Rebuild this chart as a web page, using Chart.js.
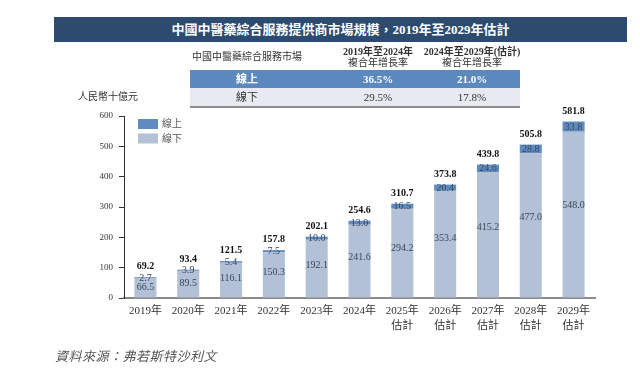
<!DOCTYPE html>
<html>
<head>
<meta charset="utf-8">
<script src="https://cdn.jsdelivr.net/npm/chart.js@4.4.1/dist/chart.umd.min.js"></script>
<style>
  html, body { margin:0; padding:0; background:#fff; }
  #page { position:relative; width:640px; height:376px; overflow:hidden; background:#fff;
          font-family:'Liberation Serif','Noto Sans CJK TC',serif; }
  #c { position:absolute; left:0; top:0; }
  .abs { position:absolute; white-space:nowrap; }
  #titlebar { left:54px; top:17px; width:573px; height:25px; background:#2d4b6f; color:#fff;
              font-weight:bold; font-size:13px; line-height:25px; text-align:center; }
  .cell { position:absolute; text-align:center; font-size:10px; color:#333; }
  #rowOn { left:190px; top:70px; width:330px; height:18px; background:#5b89be; }
  #rowOff { left:190px; top:88px; width:330px; height:18px; background:#e7ebf1; border-bottom:2px solid #8c8c8c; }
  #unit { left:78px; top:88px; font-size:10px; color:#333; }
  #source { left:55px; top:346px; font-size:13px; color:#555; font-style:italic; letter-spacing:0.5px; }
</style>
</head>
<body>
<div id="page">
  <canvas id="c" width="640" height="376"></canvas>
  <div id="titlebar" class="abs"></div>
  <div id="rowOn" class="abs"></div>
  <div id="rowOff" class="abs"></div>
  <div id="tableText"></div>
  <div id="unit" class="abs"></div>
  <div id="source" class="abs"></div>
</div>
<script>
// ---- data ----
const titleText = '中國中醫藥綜合服務提供商市場規模，2019年至2029年估計';
const unitText = '人民幣十億元';
const sourceText = '資料來源：弗若斯特沙利文';
const categories = ['2019年','2020年','2021年','2022年','2023年','2024年',
  ['2025年','估計'],['2026年','估計'],['2027年','估計'],['2028年','估計'],['2029年','估計']];
const seriesNames = ['線下','線上'];
const offlineValues = [66.5, 89.5, 116.1, 150.3, 192.1, 241.6, 294.2, 353.4, 415.2, 477.0, 548.0];
const onlineValues  = [2.7, 3.9, 5.4, 7.5, 10.0, 13.0, 16.5, 20.4, 24.6, 28.8, 33.8];
const totalValues   = [69.2, 93.4, 121.5, 157.8, 202.1, 254.6, 310.7, 373.8, 439.8, 505.8, 581.8];
const yTicks = [0, 100, 200, 300, 400, 500, 600];
const tableHeader = ['中國中醫藥綜合服務市場', ['2019年至2024年','複合年增長率'], ['2024年至2029年(估計)','複合年增長率']];
const tableRows = [['線上','36.5%','21.0%'], ['線下','29.5%','17.8%']];

// ---- static text ----
document.getElementById('titlebar').textContent = titleText;
document.getElementById('unit').textContent = unitText;
document.getElementById('source').textContent = sourceText;
const colCenters = [247, 378, 472];
const colWidths = [130, 110, 130];
const tt = document.getElementById('tableText');
function addCell(text, col, top, height, style) {
  const d = document.createElement('div');
  d.className = 'cell';
  d.style.left = (colCenters[col] - colWidths[col]/2) + 'px';
  d.style.width = colWidths[col] + 'px';
  d.style.top = top + 'px';
  d.style.height = height + 'px';
  Object.assign(d.style, style || {});
  if (Array.isArray(text)) {
    d.innerHTML = '<div style="font-weight:bold;line-height:11px">' + text[0] + '</div><div style="line-height:11px">' + text[1] + '</div>';
    d.style.paddingTop = '2px';
  } else {
    d.textContent = text;
    d.style.lineHeight = height + 'px';
  }
  tt.appendChild(d);
}
tableHeader.forEach((h, i) => addCell(h, i, 44, 26));
tableRows[0].forEach((t, i) => addCell(t, i, 70, 18, {color:'#fff', fontWeight:'bold', fontSize:'11px'}));
tableRows[1].forEach((t, i) => addCell(t, i, 88, 18, {color:'#333', fontSize:'11px'}));

// ---- chart ----
const FONT = "'Liberation Serif','Noto Sans CJK TC',serif";
const labelPlugin = {
  id: 'valueLabels',
  afterDatasetsDraw(chart) {
    const ctx = chart.ctx;
    ctx.save();
    ctx.textAlign = 'center';
    ctx.textBaseline = 'middle';
    chart.data.datasets.forEach((ds, i) => {
      const meta = chart.getDatasetMeta(i);
      meta.data.forEach((bar, j) => {
        const top = Math.min(bar.y, bar.base), bot = Math.max(bar.y, bar.base);
        const y = i === 0 ? top + 0.44 * (bot - top) : (top + bot) / 2;
        ctx.font = '10px ' + FONT;
        ctx.fillStyle = '#3b4659';
        ctx.fillText(ds.data[j].toFixed(1), bar.x, y + 0.5);
      });
    });
    const topMeta = chart.getDatasetMeta(chart.data.datasets.length - 1);
    topMeta.data.forEach((bar, j) => {
      ctx.font = 'bold 10px ' + FONT;
      ctx.fillStyle = '#111';
      ctx.fillText(totalValues[j].toFixed(1), bar.x, bar.y - 10.5);
    });
    // legend (inside chart area, top-left)
    const dsList = chart.data.datasets.slice().reverse();
    dsList.forEach((ds, k) => {
      const y = 119 + k * 14.5;
      ctx.fillStyle = ds.backgroundColor;
      ctx.fillRect(138, y, 20, 10);
      ctx.fillStyle = '#555';
      ctx.textAlign = 'left';
      ctx.font = '10px ' + FONT;
      ctx.fillText(ds.label, 162, y + 5.5);
    });
    ctx.restore();
  }
};

new Chart(document.getElementById('c'), {
  type: 'bar',
  data: {
    labels: categories,
    datasets: [
      { label: seriesNames[0], data: offlineValues, backgroundColor: '#b3c1d6' },
      { label: seriesNames[1], data: onlineValues, backgroundColor: '#5e8cc1' }
    ]
  },
  options: {
    responsive: false,
    animation: false,
    devicePixelRatio: 1,
    layout: { padding: { left: 0, right: 45, top: 116, bottom: 28 } },
    plugins: { legend: { display: false }, tooltip: { enabled: false } },
    datasets: { bar: { categoryPercentage: 1.0, barPercentage: 0.515 } },
    scales: {
      x: {
        stacked: true,
        offset: true,
        grid: { display: false, drawTicks: false },
        border: { color: '#8a8a8a', width: 2 },
        ticks: { font: { family: FONT, size: 11, lineHeight: 1.35 }, color: '#333', padding: 6, maxRotation: 0, autoSkip: false },
        afterFit: s => { s.height = 50; }
      },
      y: {
        stacked: true,
        min: 0, max: 600,
        afterBuildTicks: s => { s.ticks = yTicks.map(v => ({ value: v })); },
        ticks: { font: { family: FONT, size: 9 }, color: '#333', padding: 6 },
        grid: { drawOnChartArea: false, tickLength: 5, color: '#333' },
        border: { color: '#333', width: 1 },
        afterFit: s => { s.width = 124; }
      }
    }
  },
  plugins: [labelPlugin]
});
</script>
</body>
</html>
